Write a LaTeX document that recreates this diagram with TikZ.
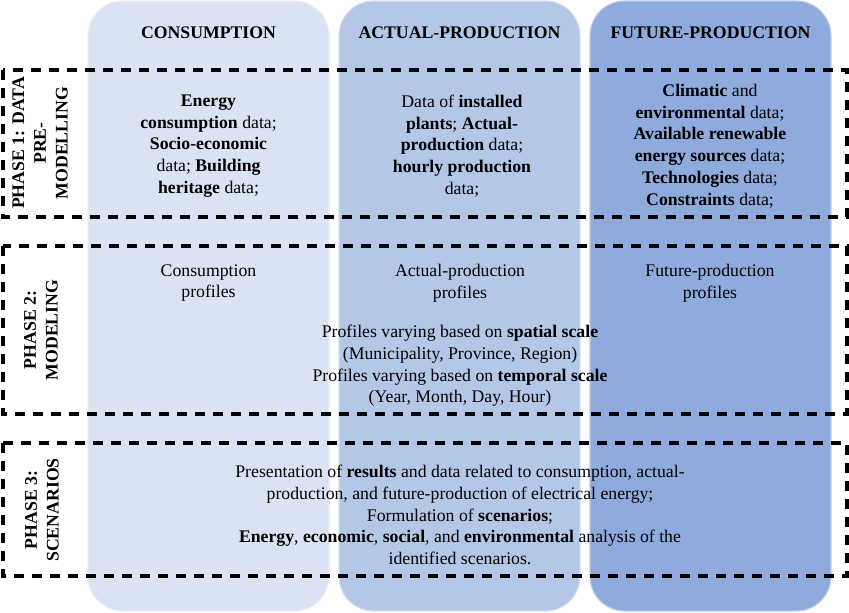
\documentclass[tikz,border=0pt]{standalone}
\usepackage{fontspec}
\setmainfont{Liberation Serif}
\definecolor{colA}{HTML}{DAE3F3}
\definecolor{colB}{HTML}{B4C7E7}
\definecolor{colC}{HTML}{8FAADC}
\begin{document}
\begin{tikzpicture}[x=0.75pt,y=-0.75pt,
  column/.style={rounded corners=26pt, line width=0.8pt},
  phasebox/.style={draw=black, line width=2.3pt, dash pattern=on 7.5pt off 6pt},
  txt/.style={font=\fontsize{13.3}{16.3}\selectfont, align=center, inner sep=0pt},
  head/.style={font=\fontsize{13.3}{16.3}\selectfont\bfseries, align=center, inner sep=0pt},
  lbl/.style={font=\fontsize{13.3}{16.3}\selectfont\bfseries, align=center, inner sep=0pt, rotate=90}]
\useasboundingbox (0,0) rectangle (849,612);
% columns
\path[column, fill=colA, draw=colA!60!white] (88,1) rectangle (329,611);
\path[column, fill=colB, draw=colB!60!white] (339,1) rectangle (580,611);
\path[column, fill=colC, draw=colC!60!white] (590,1) rectangle (831,611);
% headings
\node[head] (h1) at (208.5,33) {CONSUMPTION};
\node[head] (h2) at (459.5,33) {ACTUAL-PRODUCTION};
\node[head] (h3) at (710.5,33) {FUTURE-PRODUCTION};
% phase boxes
\draw[phasebox] (3,70) rectangle (847,217);
\draw[phasebox] (3,246) rectangle (847,414);
\draw[phasebox] (3,443) rectangle (847,576);
% phase labels
\node[lbl] (l1) at (40,143) {PHASE 1: DATA\\PRE-\\MODELLING};
\node[lbl] (l2) at (41,330) {PHASE 2:\\MODELING};
\node[lbl] (l3) at (42,510) {PHASE 3:\\SCENARIOS};
% phase 1 contents
\node[txt] (a1) at (208.5,146) {\textbf{Energy}\\\textbf{consumption} data;\\\textbf{Socio-economic}\\data; \textbf{Building}\\\textbf{heritage} data;};
\node[txt] (b1) at (462,146) {Data of \textbf{installed}\\\textbf{plants}; \textbf{Actual-}\\\textbf{production} data;\\\textbf{hourly production}\\data;};
\node[txt] (c1) at (710,146) {\textbf{Climatic} and\\\textbf{environmental} data;\\\textbf{Available renewable}\\\textbf{energy sources} data;\\\textbf{Technologies} data;\\\textbf{Constraints} data;};
% phase 2 contents
\node[txt] (a2) at (208.5,283) {Consumption\\profiles};
\node[txt] (b2) at (460,283) {Actual-production\\profiles};
\node[txt] (c2) at (710,283) {Future-production\\profiles};
\node[txt] (m2) at (460,366) {Profiles varying based on \textbf{spatial scale}\\(Municipality, Province, Region)\\Profiles varying based on \textbf{temporal scale}\\(Year, Month, Day, Hour)};
% phase 3 contents
\node[txt] (m3) at (460,515) {Presentation of \textbf{results} and data related to consumption, actual-\\production, and future-production of electrical energy;\\Formulation of \textbf{scenarios};\\\textbf{Energy}, \textbf{economic}, \textbf{social}, and \textbf{environmental} analysis of the\\identified scenarios.};
\end{tikzpicture}
\end{document}
